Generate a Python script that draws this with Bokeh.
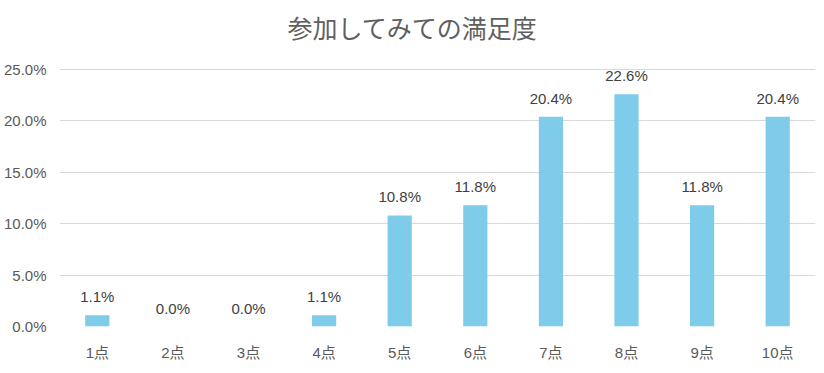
from bokeh.plotting import figure
from bokeh.models import ColumnDataSource, FactorRange, Range1d, FixedTicker, CustomJSTickFormatter, Label
from bokeh.core.properties import value
from bokeh.embed import file_html
from bokeh.resources import INLINE

title_text = "参加してみての満足度"
categories = ["1点", "2点", "3点", "4点", "5点", "6点", "7点", "8点", "9点", "10点"]
values = [1.1, 0.0, 0.0, 1.1, 10.8, 11.8, 20.4, 22.6, 11.8, 20.4]
labels = [f"{v:.1f}%" for v in values]
y_ticks = [0, 5, 10, 15, 20, 25]

src = ColumnDataSource(dict(cat=categories, val=values, lab=labels))

FONT = "Liberation Sans, Noto Sans CJK JP"
FW = 756
GRID_H = 257          # pixel height of the 0..25% band
EXTRA_TOP = 69        # space above the 25% line (holds the title)
FH = GRID_H + EXTRA_TOP
Y_MAX = 25 * FH / GRID_H

p = figure(frame_width=FW, frame_height=FH, x_range=FactorRange(*categories), y_range=Range1d(0, Y_MAX),
           output_backend="svg", toolbar_location=None,
           min_border_left=0, min_border_right=1, min_border_top=0, min_border_bottom=0)
p.outline_line_color = None
p.background_fill_color = "white"
p.border_fill_color = "white"

p.add_layout(Label(x=353, y=FH - 26, x_units="screen", y_units="screen", text=title_text,
                   text_align="center", text_baseline="middle", text_font="Noto Sans CJK JP",
                   text_font_size="25px", text_color="#5f5f5f"))

p.vbar(x="cat", top="val", width=0.32, source=src, color="#7ecbea", line_color=None)
p.text(x="cat", y="val", text="lab", source=src, text_align="center", text_baseline="bottom",
       y_offset=-10, text_font=value(FONT), text_font_size="15px", text_color="#404040")

p.xgrid.grid_line_color = None
p.ygrid.grid_line_color = "#d9d9d9"
p.ygrid.ticker = FixedTicker(ticks=y_ticks)

p.yaxis.ticker = FixedTicker(ticks=y_ticks)
p.yaxis.formatter = CustomJSTickFormatter(code="return tick.toFixed(1) + '%';")
for ax in (p.xaxis, p.yaxis):
    ax.axis_line_color = None
    ax.major_tick_line_color = None
    ax.minor_tick_line_color = None
    ax.major_label_text_font = FONT
    ax.major_label_text_font_size = "15px"
    ax.major_label_text_color = "#595959"
p.yaxis.major_label_standoff = 7
p.xaxis.major_label_standoff = 11

open("out.html", "w").write(file_html(p, INLINE))
